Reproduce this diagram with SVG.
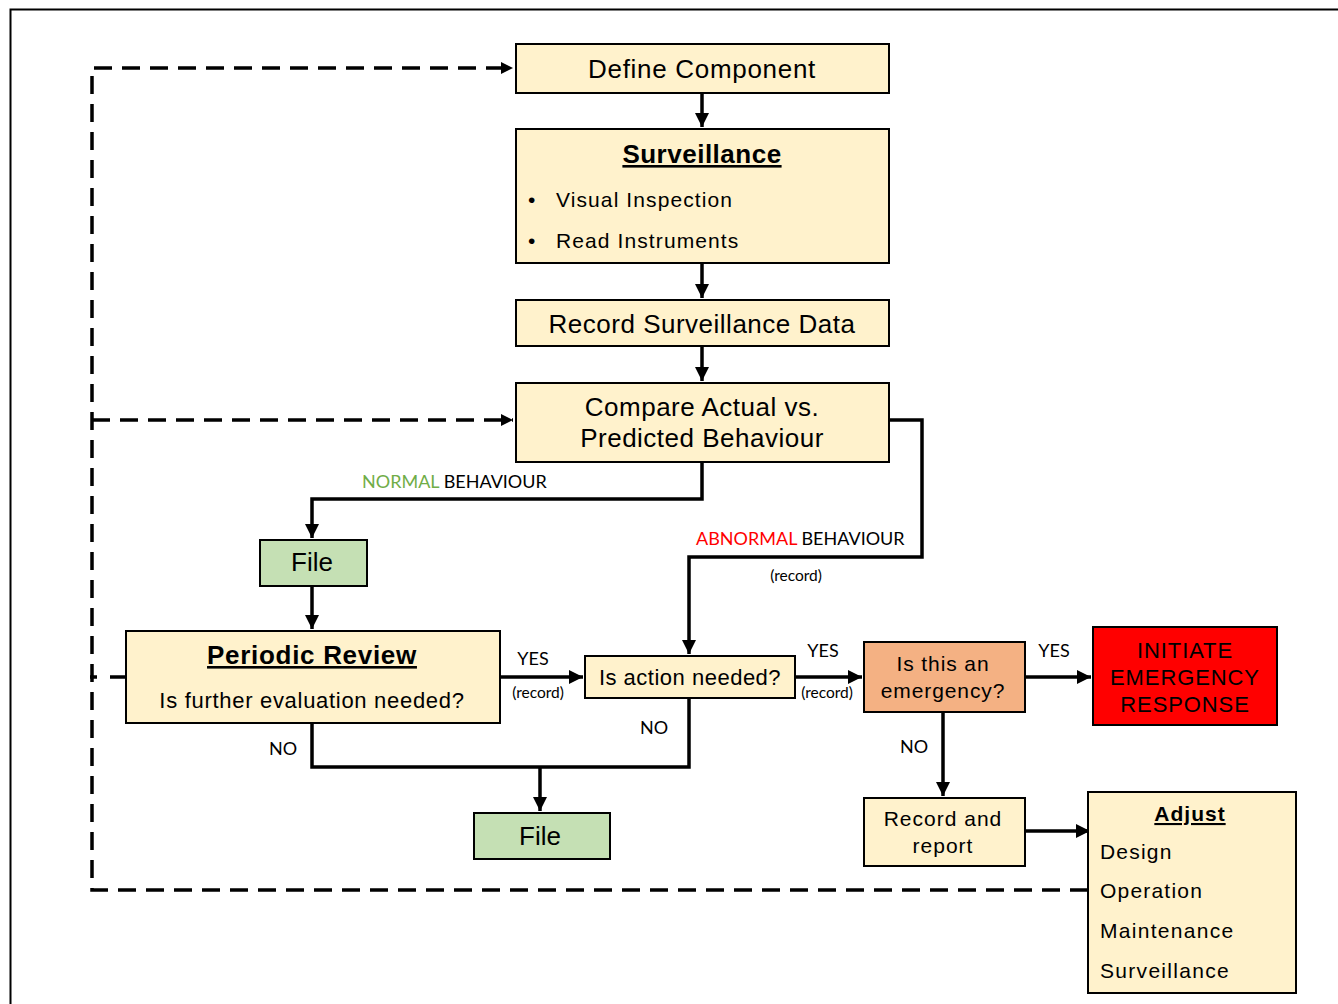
<svg xmlns="http://www.w3.org/2000/svg" width="1338" height="1004" viewBox="0 0 1338 1004">
<defs>
<marker id="ah" viewBox="0 0 10 10" refX="10" refY="5" markerWidth="4" markerHeight="4" markerUnits="strokeWidth" orient="auto"><path d="M0,0 L10,5 L0,10 z" fill="#000"/></marker>
<marker id="ahd" viewBox="0 0 10 10" refX="10" refY="5" markerWidth="3.5" markerHeight="3.5" markerUnits="strokeWidth" orient="auto"><path d="M0,0 L10,5 L0,10 z" fill="#000"/></marker>
<style>
.box{fill:#FFF2CC;stroke:#000;stroke-width:2}
.green{fill:#C5E0B4;stroke:#000;stroke-width:2}
.t{font-family:"Liberation Sans",Arial,sans-serif;fill:#000}
.c{text-anchor:middle}
.lbl{font-family:Lato,"Liberation Sans",sans-serif;font-size:18px;fill:#000}
.sm{font-family:Lato,"Liberation Sans",sans-serif;font-size:15.5px;fill:#000}
.ln{fill:none;stroke:#000;stroke-width:3.5}
.dash{fill:none;stroke:#000;stroke-width:3.5;stroke-dasharray:18,10}
</style>
</defs>
<rect x="0" y="0" width="1338" height="1004" fill="#fff"/>
<path d="M10.5,1010 V9.5 H1345" fill="none" stroke="#000" stroke-width="2"/>

<g id="connectors">
<path class="ln" d="M702,93 V127" marker-end="url(#ah)"/>
<path class="ln" d="M702,263 V298" marker-end="url(#ah)"/>
<path class="ln" d="M702,346 V381" marker-end="url(#ah)"/>
<path class="ln" d="M702,462 V499 H312 V538" marker-end="url(#ah)"/>
<path class="ln" d="M889,420 H922 V557 H689 V654" marker-end="url(#ah)"/>
<path class="ln" d="M312,586 V629" marker-end="url(#ah)"/>
<path class="ln" d="M500,677 H583" marker-end="url(#ah)"/>
<path class="ln" d="M795,677 H862" marker-end="url(#ah)"/>
<path class="ln" d="M1025,677 H1091" marker-end="url(#ah)"/>
<path class="ln" d="M943,712 V796" marker-end="url(#ah)"/>
<path class="ln" d="M1025,831 H1090" marker-end="url(#ah)"/>
<path class="ln" d="M312,723 V767 H689 V698"/>
<path class="ln" d="M540,767 V811" marker-end="url(#ah)"/>
<path class="dash" d="M1088,890 H92 V68 H513" marker-end="url(#ahd)"/>
<path class="dash" d="M92,420 H513" marker-end="url(#ahd)"/>
<path class="ln" d="M90,677 H97 M110,677 H126"/>
</g>

<g id="define"><rect class="box" x="516" y="44" width="373" height="49"/><text class="t c" x="702" y="78" font-size="26" letter-spacing="0.7">Define Component</text></g>

<g id="surveillance"><rect class="box" x="516" y="129" width="373" height="134"/>
<text class="t c" x="702" y="163" font-size="26" font-weight="bold" text-decoration="underline" letter-spacing="0.5">Surveillance</text>
<text class="t" x="528" y="207" font-size="21">•</text><text class="t" x="556" y="207" font-size="21" letter-spacing="1.1">Visual Inspection</text>
<text class="t" x="528" y="248" font-size="21">•</text><text class="t" x="556" y="248" font-size="21" letter-spacing="1.1">Read Instruments</text>
</g>

<g id="record"><rect class="box" x="516" y="300" width="373" height="46"/><text class="t c" x="702" y="333" font-size="26" letter-spacing="0.5">Record Surveillance Data</text></g>

<g id="compare"><rect class="box" x="516" y="383" width="373" height="79"/>
<text class="t c" x="702" y="416" font-size="26" letter-spacing="0.5">Compare Actual vs.</text>
<text class="t c" x="702" y="447" font-size="26" letter-spacing="0.5">Predicted Behaviour</text></g>

<g id="file1"><rect class="green" x="260" y="540" width="107" height="46"/><text class="t c" x="312" y="571" font-size="26">File</text></g>

<g id="periodic"><rect class="box" x="126" y="631" width="374" height="92"/>
<text class="t c" x="312" y="664" font-size="26" font-weight="bold" text-decoration="underline" letter-spacing="0.7">Periodic Review</text>
<text class="t c" x="312" y="708" font-size="22" letter-spacing="0.7">Is further evaluation needed?</text></g>

<g id="action"><rect class="box" x="585" y="656" width="210" height="42"/><text class="t c" x="690" y="685" font-size="22" letter-spacing="0.5">Is action needed?</text></g>

<g id="emergency"><rect x="864" y="642" width="161" height="70" fill="#F4B183" stroke="#000" stroke-width="2"/>
<text class="t c" x="943" y="671" font-size="21" letter-spacing="0.9">Is this an</text>
<text class="t c" x="943" y="698" font-size="21" letter-spacing="0.9">emergency?</text></g>

<g id="initiate"><rect x="1093" y="627" width="184" height="98" fill="#FF0000" stroke="#000" stroke-width="2"/>
<text class="t c" x="1185" y="658" font-size="22" letter-spacing="0.9">INITIATE</text>
<text class="t c" x="1185" y="685" font-size="22" letter-spacing="0.9">EMERGENCY</text>
<text class="t c" x="1185" y="712" font-size="22" letter-spacing="0.9">RESPONSE</text></g>

<g id="file2"><rect class="green" x="474" y="813" width="136" height="46"/><text class="t c" x="540" y="845" font-size="26">File</text></g>

<g id="recordreport"><rect class="box" x="864" y="798" width="161" height="68"/>
<text class="t c" x="943" y="826" font-size="21" letter-spacing="1">Record and</text>
<text class="t c" x="943" y="853" font-size="21" letter-spacing="1">report</text></g>

<g id="adjust"><rect class="box" x="1088" y="792" width="208" height="201"/>
<text class="t c" x="1190" y="821" font-size="21" font-weight="bold" text-decoration="underline" letter-spacing="1">Adjust</text>
<text class="t" x="1100" y="859" font-size="21" letter-spacing="1.2">Design</text>
<text class="t" x="1100" y="898" font-size="21" letter-spacing="1.2">Operation</text>
<text class="t" x="1100" y="938" font-size="21" letter-spacing="1.3">Maintenance</text>
<text class="t" x="1100" y="978" font-size="21" letter-spacing="1.3">Surveillance</text></g>

<g id="labels">
<text class="lbl" x="362" y="488"><tspan fill="#70AD47">NORMAL</tspan> BEHAVIOUR</text>
<text class="lbl" x="696" y="545"><tspan fill="#FF0000">ABNORMAL</tspan>  BEHAVIOUR</text>
<text class="sm c" x="796" y="581">(record)</text>
<text class="lbl c" x="533" y="665">YES</text>
<text class="sm c" x="538" y="698">(record)</text>
<text class="lbl c" x="823" y="657">YES</text>
<text class="sm c" x="827" y="698">(record)</text>
<text class="lbl c" x="654" y="734">NO</text>
<text class="lbl c" x="283" y="755">NO</text>
<text class="lbl c" x="1054" y="657">YES</text>
<text class="lbl c" x="914" y="753">NO</text>
</g>
</svg>
